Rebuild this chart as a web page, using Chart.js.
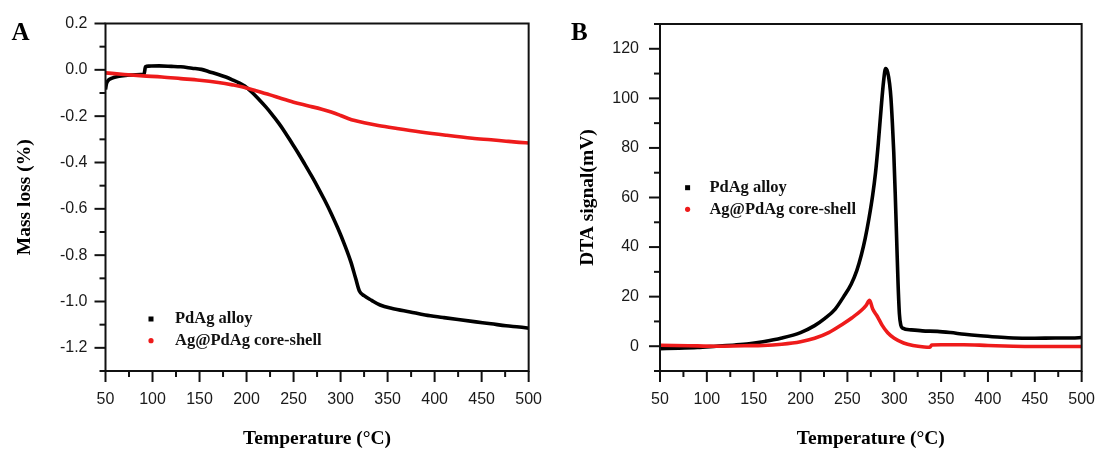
<!DOCTYPE html>
<html>
<head>
<meta charset="utf-8">
<title>PdAg TGA / DTA</title>
<script src="https://cdn.jsdelivr.net/npm/chart.js@4.4.1/dist/chart.umd.min.js"></script>
<style>
  html, body { margin: 0; padding: 0; background: #fff; }
  #wrap { position: relative; width: 1103px; height: 452px; overflow: hidden; }
  #wrap canvas { position: absolute; top: 0; }
  #chart-a { left: 0; }
  #chart-b { left: 550px; }
</style>
</head>
<body>
<div id="wrap">
  <canvas id="chart-a" width="550" height="452"></canvas>
  <canvas id="chart-b" width="553" height="452"></canvas>
</div>
<script>
// Series names
const seriesNames = ['PdAg alloy', 'Ag@PdAg core-shell'];

// Panel A - TGA mass loss (%) vs temperature (°C)
const alloyTempA = [50, 51, 53, 57, 63, 72, 82, 91, 92.5, 96, 107, 120, 130, 142, 152, 160, 170, 178, 185, 192,
  198, 206, 213, 220, 227, 234, 241, 248, 255, 262, 269, 276, 283, 290, 297, 304, 311, 316, 320, 325,
  333, 342, 355, 374, 390, 409, 425, 444, 460, 476, 490, 500];
const alloyMassA = [-0.085, -0.06, -0.045, -0.036, -0.029, -0.024, -0.021, -0.019, 0.013, 0.016, 0.017, 0.015, 0.013, 0.007, 0.002, -0.008, -0.02, -0.031, -0.043, -0.056,
  -0.07, -0.098, -0.127, -0.158, -0.192, -0.229, -0.27, -0.315, -0.36, -0.408, -0.457, -0.508, -0.562, -0.62, -0.683, -0.752, -0.83, -0.9, -0.955, -0.975,
  -0.995, -1.015, -1.03, -1.045, -1.058, -1.069, -1.078, -1.088, -1.096, -1.105, -1.11, -1.115];

const shellTempA = [50, 70, 90, 110, 130, 150, 170, 185, 195, 210, 225, 237, 250, 265, 280, 290, 300, 308, 315, 325,
  340, 360, 385, 412, 440, 460, 476, 490, 500];
const shellMassA = [-0.013, -0.02, -0.026, -0.031, -0.038, -0.045, -0.055, -0.065, -0.073, -0.09, -0.108, -0.124, -0.14, -0.155, -0.17, -0.182, -0.197, -0.21, -0.219, -0.228,
  -0.24, -0.253, -0.268, -0.282, -0.295, -0.302, -0.308, -0.313, -0.316];

// Panel B - DTA signal (mV) vs temperature (°C)
const alloyTempB = [50, 70, 90, 110, 130, 145, 160, 180, 200, 215, 226, 237, 246, 254, 260, 265, 269, 273, 277, 280,
  283, 286, 288.5, 290.7, 293, 295, 296.5, 298, 299.5, 301, 302.5, 304, 305.5, 307, 309, 318, 330, 346, 360, 375,
  392, 410, 427, 450, 472, 490, 500];
const alloySignalB = [-1.0, -0.8, -0.5, 0, 0.5, 1.0, 1.8, 3.3, 5.5, 8.3, 11.2, 15, 20, 25, 30.5, 37, 43.5, 51.5, 61, 70,
  82, 96, 106.5, 112, 110.5, 106, 100, 90, 78, 62, 44, 26, 13, 8.5, 7.3, 6.6, 6.2, 6.0, 5.5, 4.8,
  4.2, 3.7, 3.3, 3.2, 3.3, 3.3, 3.5];

const shellTempB = [50, 80, 110, 140, 160, 180, 200, 215, 230, 244, 255, 265, 270, 273.7, 277, 282, 287, 293, 300, 310,
  320, 332, 338, 340, 350, 374, 400, 427, 450, 473, 500];
const shellSignalB = [0.4, 0.2, 0, 0.2, 0.3, 0.8, 1.8, 3.2, 5.5, 8.7, 11.5, 14.5, 16.5, 18.5, 15, 12, 8.5, 5.4, 3.2, 1.3,
  0.3, -0.3, -0.4, 0.5, 0.6, 0.6, 0.3, 0, -0.1, -0.1, -0.1];

// Axis ranges: labelled (major) step and minor tick step
const tempTicks = { min: 50, max: 500, major: 50, minor: 25 };
const massTicks = { min: -1.3, max: 0.2, major: 0.2, minor: 0.1 };
const signalTicks = { min: -10, max: 130, major: 20, minor: 10 };

const colors = { alloy: '#000000', shell: '#ee1b1b' };

const serif = "'Liberation Serif', 'Times New Roman', serif";
const sans = "'Liberation Sans', Arial, sans-serif";

function toPoints(xs, ys) {
  return xs.map((x, i) => ({ x: x, y: ys[i] }));
}

function isMultiple(v, step) {
  const r = v / step;
  return Math.abs(r - Math.round(r)) < 1e-6;
}

// Box frame around the plot area plus outward major/minor tick marks
const framePlugin = {
  id: 'frame',
  afterDraw(chart, args, opts) {
    const { ctx, chartArea: a, scales } = chart;
    ctx.save();
    ctx.strokeStyle = '#111';
    ctx.lineWidth = 2;
    ctx.strokeRect(a.left, a.top, a.right - a.left, a.bottom - a.top);

    const drawTicks = (scale, spec, horizontal) => {
      for (let k = 0; ; k++) {
        const v = spec.min + k * spec.minor;
        if (v > spec.max + 1e-9) break;
        const len = isMultiple(v, spec.major) ? opts.majorLen : opts.minorLen;
        const p = scale.getPixelForValue(v);
        ctx.beginPath();
        if (horizontal) {
          ctx.moveTo(p, a.bottom);
          ctx.lineTo(p, a.bottom + len);
        } else {
          ctx.moveTo(a.left, p);
          ctx.lineTo(a.left - len, p);
        }
        ctx.stroke();
      }
    };
    drawTicks(scales.x, opts.xTicks, true);
    drawTicks(scales.y, opts.yTicks, false);

    // panel letter
    ctx.fillStyle = '#000';
    ctx.font = 'bold 25px ' + serif;
    ctx.textBaseline = 'alphabetic';
    ctx.textAlign = 'left';
    ctx.fillText(opts.letter, opts.letterX, opts.letterY);
    ctx.restore();
  }
};

// Legend drawn inside the plot area: small marker followed by bold label
const insideLegendPlugin = {
  id: 'insideLegend',
  afterDraw(chart, args, opts) {
    const { ctx, chartArea: a } = chart;
    ctx.save();
    ctx.font = 'bold 16.5px ' + serif;
    ctx.textBaseline = 'middle';
    ctx.textAlign = 'left';
    chart.data.datasets.forEach((ds, i) => {
      const y = a.top + opts.top + i * opts.rowGap;
      const mx = a.left + opts.markerX;
      ctx.fillStyle = ds.borderColor;
      if (i === 0) {
        ctx.fillRect(mx - 2.5, y - 2.5, 5, 5);
      } else {
        ctx.beginPath();
        ctx.arc(mx, y, 2.6, 0, Math.PI * 2);
        ctx.fill();
      }
      ctx.fillStyle = '#111';
      ctx.fillText(ds.label, a.left + opts.textX, y);
    });
    ctx.restore();
  }
};

function makeDatasets(alloyData, shellData) {
  const common = {
    showLine: true,
    pointRadius: 0,
    borderWidth: 3.6,
    cubicInterpolationMode: 'monotone',
    fill: false
  };
  return [
    Object.assign({ label: seriesNames[0], data: alloyData, borderColor: colors.alloy, backgroundColor: colors.alloy, order: 1 }, common),
    Object.assign({ label: seriesNames[1], data: shellData, borderColor: colors.shell, backgroundColor: colors.shell, order: 0 }, common)
  ];
}

function makeChart(canvas, cfg) {
  return new Chart(canvas, {
    type: 'line',
    data: { datasets: makeDatasets(cfg.alloy, cfg.shell) },
    options: {
      responsive: false,
      devicePixelRatio: 1,
      animation: false,
      events: [],
      layout: { padding: { top: cfg.padTop, right: cfg.padRight, left: 0, bottom: 0 } },
      scales: {
        x: {
          type: 'linear',
          min: tempTicks.min,
          max: tempTicks.max,
          afterFit: (scale) => { scale.height = cfg.xAxisHeight; },
          grid: { display: false, drawTicks: true, tickLength: 11 },
          border: { display: false },
          ticks: {
            stepSize: tempTicks.major,
            autoSkip: false,
            maxRotation: 0,
            padding: 8,
            color: '#1a1a1a',
            font: { family: sans, size: 16 }
          },
          title: {
            display: true,
            text: 'Temperature (°C)',
            color: '#000',
            font: { family: serif, size: 19.5, weight: 'bold' },
            padding: { top: 0, bottom: 1 }
          }
        },
        y: {
          type: 'linear',
          min: cfg.yTicks.min,
          max: cfg.yTicks.max,
          afterFit: (scale) => { scale.width = cfg.yAxisWidth; },
          grid: { display: false, drawTicks: true, tickLength: 11 },
          border: { display: false },
          ticks: {
            // step on the minor spacing so every labelled value is generated
            stepSize: cfg.yTicks.minor,
            autoSkip: false,
            padding: cfg.yLabelPad,
            color: '#1a1a1a',
            font: { family: sans, size: 16 },
            callback: cfg.yFormat
          },
          title: {
            display: true,
            text: cfg.yTitle,
            color: '#000',
            font: { family: serif, size: 19.5, weight: 'bold' },
            padding: { top: cfg.yTitlePad, bottom: 0 }
          }
        }
      },
      plugins: {
        legend: { display: false },
        tooltip: { enabled: false },
        frame: {
          xTicks: tempTicks,
          yTicks: cfg.yTicks,
          majorLen: 11,
          minorLen: 6,
          letter: cfg.letter,
          letterX: cfg.letterX,
          letterY: 40
        },
        insideLegend: cfg.legend
      }
    },
    plugins: [framePlugin, insideLegendPlugin]
  });
}

makeChart(document.getElementById('chart-a'), {
  alloy: toPoints(alloyTempA, alloyMassA),
  shell: toPoints(shellTempA, shellMassA),
  yTicks: massTicks,
  yTitle: 'Mass loss (%)',
  yFormat: (v) => isMultiple(v, massTicks.major) ? v.toFixed(1) : '',
  padTop: 23.5,
  padRight: 17,
  xAxisHeight: 81,
  yAxisWidth: 105.5,
  yLabelPad: 7,
  yTitlePad: 13.5,
  letter: 'A',
  letterX: 11.5,
  legend: { markerX: 45.5, textX: 69.5, top: 295.5, rowGap: 21.7 }
});

makeChart(document.getElementById('chart-b'), {
  alloy: toPoints(alloyTempB, alloySignalB),
  shell: toPoints(shellTempB, shellSignalB),
  yTicks: signalTicks,
  yTitle: 'DTA signal(mV)',
  yFormat: (v) => isMultiple(v, signalTicks.major) ? String(Math.round(v)) : '',
  padTop: 24,
  padRight: 17,
  xAxisHeight: 81,
  yAxisWidth: 110,
  yLabelPad: 10,
  yTitlePad: 26,
  letter: 'B',
  letterX: 21,
  legend: { markerX: 27.6, textX: 49.4, top: 163.7, rowGap: 21.6 }
});
</script>
</body>
</html>
